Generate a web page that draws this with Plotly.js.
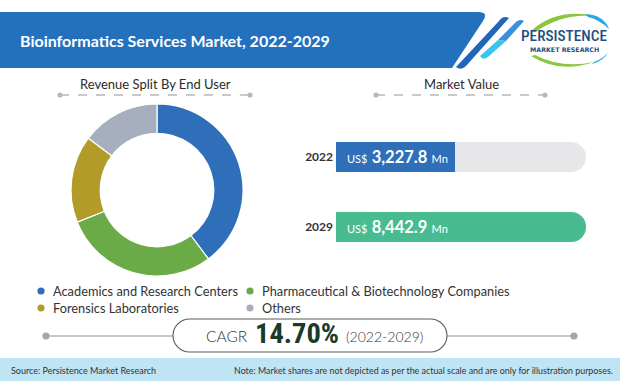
<!DOCTYPE html>
<html><head><meta charset="utf-8">
<script src="https://cdn.plot.ly/plotly-3.0.1.min.js"></script>
<style>html,body{margin:0;padding:0;background:#fff;} #chart{width:620px;height:381px;}</style>
</head><body><div id="chart"></div>
<script>
// ---- data ----
const chartTitle = 'Bioinformatics Services Market, 2022-2029';
const pieTitle = 'Revenue Split By End User';
const barTitle = 'Market Value';
const segments = ['Academics and Research Centers', 'Pharmaceutical & Biotechnology Companies', 'Forensics Laboratories', 'Others'];
const shares = [39.8, 29.1, 16.4, 14.7];
const years = ['2022', '2029'];
const marketValues = [3227.8, 8442.9];
const currency = 'US$';
const unit = 'Mn';
const cagrLabel = 'CAGR';
const cagrValue = '14.70%';
const cagrPeriod = '(2022-2029)';
const sourceText = 'Source: Persistence Market Research';
const noteText = 'Note: Market shares are not depicted as per the actual scale and are only for illustration purposes.';

// ---- style ----
const segColors = ['#2f6fba', '#6bab47', '#b39b2a', '#a7afbe'];
const barColors = ['#2f6fba', '#48bb91'];
const trackColor = '#e7e7e9';
const W = 620, H = 381;
const BAR_OFFSET = 1509; // illustrative bar lead-in (bars not to scale, as the note says)
const px = x => x / W, py = y => 1 - y / H;

// pick an installed condensed face if any, and size texts to the reference widths
const cvs = document.createElement('canvas').getContext('2d');
function textW(str, fam, weight) { cvs.font = (weight || 'normal') + ' 100px ' + fam; return cvs.measureText(str).width; }
function hasFont(f) {
  return ['monospace', 'serif'].some(b => textW('PERSISTENCE 14.70%', '"' + f + '", ' + b) !== textW('PERSISTENCE 14.70%', b));
}
const condCands = ['Roboto Condensed', 'Noto Sans Condensed', 'DejaVu Sans Condensed', 'Liberation Sans Narrow', 'Open Sans Condensed', 'Arial Narrow'];
const condFound = condCands.find(hasFont);
const condFam = condFound || 'Roboto';
const fitSize = (str, fam, weight, width, maxSize) => Math.min(maxSize, 100 * width / textW(str, '"' + fam + '"', weight));

function P(str) {
  const toks = str.trim().split(/[\s,]+/);
  let out = [], ax = 0;
  for (const t of toks) {
    if (/^[A-Za-z]$/.test(t)) { out.push(t); ax = 0; }
    else { const v = parseFloat(t); out.push((ax % 2 === 0 ? px(v) : py(v)).toFixed(5)); ax++; }
  }
  return out.join(' ');
}
function pathShape(d, fill, line) {
  return {type: 'path', xref: 'paper', yref: 'paper', path: P(d), fillcolor: fill || 'rgba(0,0,0,0)',
          line: line || {width: 0}, layer: 'above'};
}
function rectShape(x0, y0, x1, y1, fill) {
  return {type: 'rect', xref: 'paper', yref: 'paper', x0: px(x0), x1: px(x1), y0: py(y1), y1: py(y0),
          fillcolor: fill, line: {width: 0}, layer: 'below'};
}
function circle(cx, cy, r, fill) {
  return {type: 'circle', xref: 'paper', yref: 'paper', x0: px(cx - r), x1: px(cx + r), y0: py(cy + r), y1: py(cy - r),
          fillcolor: fill, line: {width: 0}, layer: 'above'};
}
function lineShape(x0, y0, x1, y1, color, width, dash) {
  return {type: 'line', xref: 'paper', yref: 'paper', x0: px(x0), x1: px(x1), y0: py(y0), y1: py(y1),
          line: {color: color, width: width, dash: dash || 'solid'}, layer: 'above'};
}
function ann(text, x, y, xa, size, color, extra) {
  return Object.assign({text: text, xref: 'paper', yref: 'paper', x: px(x), y: py(y), xanchor: xa, yanchor: 'middle',
    showarrow: false, font: {family: 'Lato, sans-serif', size: size, color: color}}, extra || {});
}

const maxVal = Math.max(...marketValues);

const traces = [
  {type: 'pie', labels: segments, values: shares, sort: false, direction: 'clockwise', rotation: 0,
   hole: 0.66, textinfo: 'none', hoverinfo: 'label+percent', showlegend: false,
   marker: {colors: segColors, line: {color: '#ffffff', width: 1.2}},
   domain: {x: [px(71), px(243)], y: [py(276), py(104)]}},
  {type: 'bar', orientation: 'h', y: years, x: years.map(() => maxVal + BAR_OFFSET),
   width: 0.43, marker: {color: trackColor, cornerradius: 15}, hoverinfo: 'skip', showlegend: false},
  {type: 'bar', orientation: 'h', y: years, x: marketValues.map(v => v + BAR_OFFSET),
   customdata: marketValues, hovertemplate: '%{y}: %{customdata}<extra></extra>',
   width: 0.43, marker: {color: barColors, cornerradius: 15}, showlegend: false}
];

const shapes = [
  // header band
  pathShape('M 0 12 L 478 12 Q 489 12 483 21 L 452 68 L 0 68 Z', '#2370bd'),
  // stripes
  pathShape('M 499 21 Q 503 15 509 18 L 466 66 Q 461 71 456 67 Z', '#2266b8'),
  pathShape('M 514 24 Q 519 18 524 21 L 506 41 L 498 40 Z', '#3b8fe0'),
  pathShape('M 498 40 L 506 41 L 488 57 Q 483 61 480 56 Z', '#3fc3ec'),
  // logo swooshes
  pathShape('M 531 31 Q 558 6 600 17 Q 566 11 535 32 Z', '#8cc63f'),
  pathShape('M 585 14 Q 604 15 609 29 Q 600 20 588 17 Z', '#29a8e0'),
  pathShape('M 531 56 Q 560 74 594 62 Q 562 69 535 55 Z', '#8cc63f'),
  pathShape('M 594 62 Q 605 58 609 51 Q 604 61 592 64 Z', '#29a8e0'),
  // section dividers
  lineShape(60, 95, 250, 95, '#b8b8b8', 1.3, 'dash'),
  circle(60, 95, 2.6, '#b8b8b8'), circle(250, 95, 2.6, '#b8b8b8'),
  lineShape(376, 95, 545, 95, '#b8b8b8', 1.3, 'dash'),
  circle(376, 95, 2.6, '#b8b8b8'), circle(545, 95, 2.6, '#b8b8b8'),
  // CAGR line + pill
  lineShape(46, 336, 173, 336, '#8f8f8f', 1.2),
  lineShape(447, 336, 574, 336, '#8f8f8f', 1.2),
  circle(46, 336, 3.6, '#a5a5a5'), circle(574, 336, 3.6, '#a5a5a5'),
  pathShape('M 189.5 319 L 430.5 319 C 439.6 319 447 326.4 447 335.5 C 447 344.6 439.6 352 430.5 352 L 189.5 352 C 180.4 352 173 344.6 173 335.5 C 173 326.4 180.4 319 189.5 319 Z',
            '#ffffff', {color: '#5a5a5a', width: 1.1}),
  // footer
  rectShape(0, 358, 620, 381, '#bfe4f3')
];

// legend (circles + texts)
const legendPos = [[41, 291], [250, 291], [41, 308], [250, 308]];
segments.forEach((s, i) => shapes.push(circle(legendPos[i][0], legendPos[i][1], 3.6, segColors[i])));

const fmt = v => v.toLocaleString('en-US', {minimumFractionDigits: 1, maximumFractionDigits: 1});

const logoSize = fitSize('PERSISTENCE', condFam, '500', 86, 19);
const cagrSize = condFound ? fitSize(cagrValue, condFam, 'bold', 84, 30) : 27.5;

const annotations = [
  ann('<b>' + chartTitle + '</b>', 18, 40, 'left', 16, '#ffffff'),
  ann('PERSISTENCE', 564, 36.5, 'center', logoSize, '#1f4f7e', {font: {family: condFam, size: logoSize, color: '#1f4f7e', weight: 500}}),
  ann('<b>MARKET RESEARCH</b>', 564, 49.5, 'center', 6.3, '#1f4f7e', {font: {family: 'DejaVu Sans, sans-serif', size: 6.3, color: '#1f4f7e'}}),
  ann(pieTitle, 155, 84, 'center', 13, '#2b2b2b'),
  ann(barTitle, 461, 84, 'center', 13, '#2b2b2b'),
  ann(cagrLabel, 250, 336, 'right', 15, '#333333', {font: {family: 'Lato, sans-serif', size: 15.5, color: '#333333', weight: 300}}),
  ann('<b>' + cagrValue + '</b>', 296.5, 333.5, 'center', cagrSize, '#1c3a28', {font: {family: condFam, size: cagrSize, color: '#1c3a28'}}),
  ann(cagrPeriod, 344, 336, 'left', 14, '#333333', {font: {family: 'Lato, sans-serif', size: 14, color: '#333333', weight: 300}}),
  ann(sourceText, 9, 370, 'left', 9, '#333333'),
  ann(noteText, 615, 370, 'right', 8.9, '#333333')
];
segments.forEach((s, i) => annotations.push(ann(s, legendPos[i][0] + 10, legendPos[i][1], 'left', 12.8, '#333333')));
years.forEach((yr, i) => annotations.push({
  xref: 'x', yref: 'y', x: 0, y: i, xanchor: 'left', yanchor: 'middle', xshift: 9, showarrow: false,
  text: '<span style="font-size:11px">' + currency + '</span> <b>' + fmt(marketValues[i]) + '</b> <span style="font-size:11px">' + unit + '</span>',
  font: {family: 'Lato, sans-serif', size: 16.5, color: '#ffffff'}
}));

const layout = {
  width: W, height: H, margin: {l: 0, r: 0, t: 0, b: 0}, paper_bgcolor: '#ffffff', plot_bgcolor: 'rgba(0,0,0,0)',
  barmode: 'overlay', showlegend: false,
  xaxis: {domain: [px(336), px(586)], range: [0, maxVal + BAR_OFFSET], visible: false, anchor: 'y', fixedrange: true},
  yaxis: {domain: [py(262), py(122)], type: 'category', range: [1.5, -0.5], anchor: 'x', showgrid: false, zeroline: false,
          showline: false, ticks: '', ticklabelstandoff: 2,
          tickfont: {family: 'Lato, sans-serif', size: 12, color: '#333333', weight: 'bold'}, fixedrange: true},
  shapes: shapes, annotations: annotations
};

Plotly.newPlot('chart', traces, layout, {displayModeBar: false, staticPlot: true});
</script>
</body></html>
